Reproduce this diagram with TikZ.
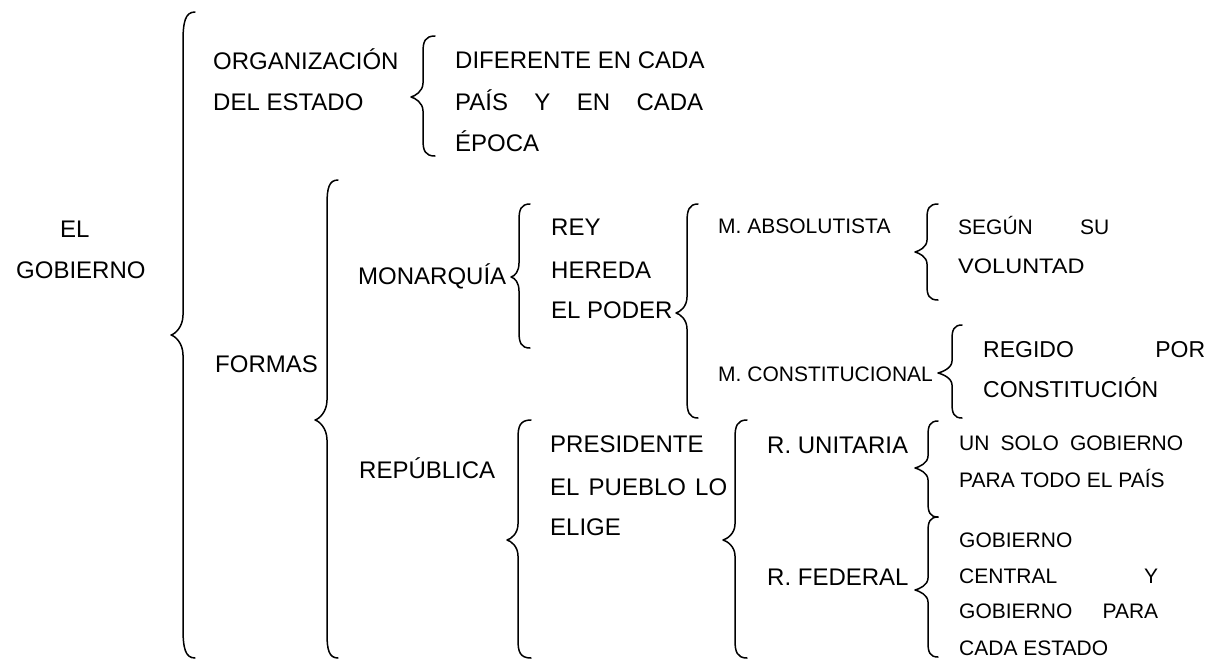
\documentclass[tikz,border=0pt]{standalone}
\usepackage{fontspec}
\setmainfont{Liberation Sans}
\usepackage{graphicx}
% brace: tip x, line x, end x, top y, cusp y, bottom y, curl, cusp curl
\newcommand\wbrace[8]{%
  \draw[bracestyle] (#3,#4) .. controls (#2+2,#4) and (#2,#4+0.35*#7) .. (#2,#4+#7) -- (#2,#5-#8)
    .. controls (#2,#5-0.4*#8) and (#1+4,#5-1) .. (#1,#5)
    .. controls (#1+4,#5+1) and (#2,#5+0.4*#8) .. (#2,#5+#8)
    -- (#2,#6-#7) .. controls (#2,#6-0.35*#7) and (#2+2,#6) .. (#3,#6);}
\begin{document}
\begin{tikzpicture}[x=1pt,y=-1pt,
  bracestyle/.style={line width=1.5pt,line join=round,line cap=round},
  tbig/.style={anchor=base west,inner sep=0pt,font=\fontsize{24}{28}\selectfont},
  tmid/.style={anchor=base west,inner sep=0pt,font=\fontsize{23}{27}\selectfont},
  tsmall/.style={anchor=base west,inner sep=0pt,font=\fontsize{21}{25}\selectfont}]
\useasboundingbox[fill=white] (0,0) rectangle (1223,659);

% braces
\wbrace{171}{183}{195}{12}{335}{658}{30}{20}
\wbrace{411}{423}{435}{36}{97}{156}{16}{14}
\wbrace{315}{327}{338}{180}{420}{658}{24}{20}
\wbrace{511}{519}{530}{204}{277}{348}{16}{14}
\wbrace{676}{687}{698}{204}{313}{418}{18}{16}
\wbrace{915}{927}{938}{204}{252}{300}{14}{12}
\wbrace{938}{952}{962}{325}{373}{418}{14}{12}
\wbrace{507}{518}{531}{420}{540}{658}{18}{16}
\wbrace{723}{735}{747}{420}{540}{658}{18}{16}
\wbrace{915}{928}{938}{421}{468}{517}{14}{12}
\wbrace{915}{928}{938}{517}{590}{657}{14}{12}

% level 0
\node[tbig] (el) at (60,237.6) {EL};
\node[tbig] (gob) at (16,278) {GOBIERNO};

% level 1
\node[tbig] (org1) at (213,69.6) {ORGANIZACIÓN};
\node[tbig] (org2) at (213,110.6) {DEL ESTADO};
\node[tbig] (formas) at (215,372.6) {FORMAS};

% organization
\node[tbig] (dif1) at (455,68.6) {DIFERENTE EN CADA};
\node[tbig] (dif2) at (455,110.6) {\makebox[248pt][s]{PAÍS Y EN CADA}};
\node[tbig] (dif3) at (455,151.6) {ÉPOCA};

% monarchy
\node[tbig] (mon) at (358,284.6) {MONARQUÍA};
\node[tbig] (rey1) at (551,235.6) {REY};
\node[tbig] (rey2) at (551,278.6) {HEREDA};
\node[tbig] (rey3) at (551,318.6) {EL PODER};
\node[tsmall] (mabs) at (718,233.5) {M. ABSOLUTISTA};
\node[tsmall] (mcon) at (718,381) {M. CONSTITUCIONAL};
\node[tsmall] (seg1) at (958,234) {\makebox[151pt][s]{SEGÚN SU}};
\node[tsmall] (seg2) at (958,273) {\scalebox{1.12}[1]{VOLUNTAD}};
\node[tmid] (reg1) at (983,357) {\makebox[222pt][s]{REGIDO POR}};
\node[tmid] (reg2) at (983,397) {CONSTITUCIÓN};

% republic
\node[tbig] (rep) at (359,478) {REPÚBLICA};
\node[tbig] (pre1) at (550,452) {PRESIDENTE};
\node[tbig] (pre2) at (550,495) {\makebox[177pt][s]{EL PUEBLO LO}};
\node[tbig] (pre3) at (550,535) {ELIGE};
\node[tbig] (runi) at (767,453) {R. UNITARIA};
\node[tbig] (rfed) at (767,585) {R. FEDERAL};
\node[tsmall] (uni1) at (959,450) {\makebox[224pt][s]{UN SOLO GOBIERNO}};
\node[tsmall] (uni2) at (959,487) {PARA TODO EL PAÍS};
\node[tsmall] (fed1) at (959,547) {GOBIERNO};
\node[tsmall] (fed2) at (959,583) {\makebox[199pt][s]{CENTRAL Y}};
\node[tsmall] (fed3) at (959,618) {\makebox[199pt][s]{GOBIERNO PARA}};
\node[tsmall] (fed4) at (959,655) {CADA ESTADO};
\end{tikzpicture}
\end{document}
